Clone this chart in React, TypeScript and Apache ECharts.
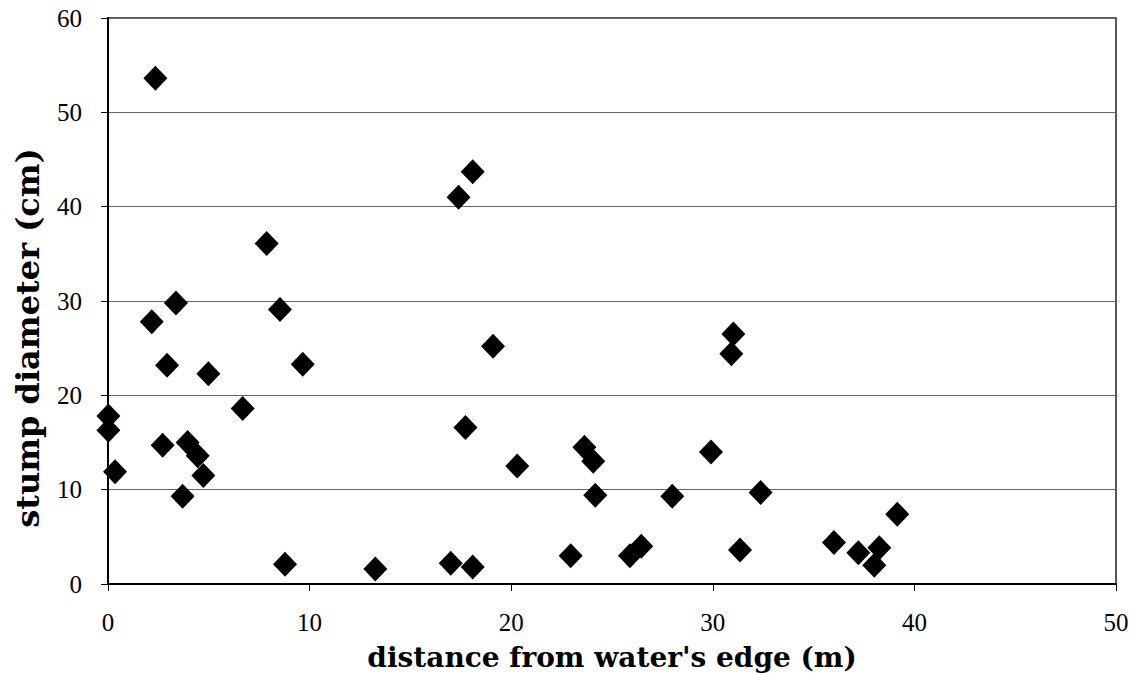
import React, { useEffect, useRef } from "react";
import * as echarts from "echarts";

const distance: number[] = [
  2.35, 0.02, 0.02, 0.35, 2.17, 3.37, 2.93, 2.71, 3.95, 4.45, 4.73, 3.7, 4.98,
  6.68, 7.87, 8.53, 9.66, 8.78, 13.26, 17.0, 18.09, 17.39, 18.09, 17.73, 19.1,
  20.3, 22.95, 23.63, 24.07, 24.17, 25.89, 26.45, 27.99, 29.91, 30.92, 31.02,
  31.35, 32.37, 36.01, 37.22, 38.01, 38.26, 39.15,
];
const diameter: number[] = [
  53.6, 17.8, 16.3, 11.9, 27.8, 29.8, 23.2, 14.7, 15.0, 13.6, 11.5, 9.3, 22.3,
  18.6, 36.1, 29.1, 23.3, 2.1, 1.6, 2.2, 1.8, 41.0, 43.7, 16.6, 25.2, 12.5, 3.0,
  14.5, 13.0, 9.4, 3.0, 4.0, 9.3, 14.0, 24.4, 26.5, 3.6, 9.7, 4.4, 3.3, 2.0,
  3.85, 7.4,
];
const xTitle = "distance from water's edge (m)";
const yTitle = "stump diameter (cm)";

const TICK_FONT = "Liberation Serif";

export default function App() {
  const ref = useRef<HTMLDivElement>(null);
  useEffect(() => {
    if (!ref.current) return;
    const chart = echarts.init(ref.current, null, { renderer: "svg" });
    const data = distance.map((d, i) => [d, diameter[i]]);
    const labelStyle = {
      color: "#000",
      fontFamily: TICK_FONT,
      fontSize: 25,
    };
    chart.setOption({
      animation: false,
      backgroundColor: "#ffffff",
      textStyle: { fontFamily: TICK_FONT, color: "#000" },
      grid: {
        left: 108,
        top: 18,
        right: 27,
        bottom: 89,
        show: true,
        borderColor: "#222",
        borderWidth: 1.5,
      },
      xAxis: {
        type: "value",
        min: 0,
        max: 50,
        interval: 10,
        axisLine: { show: true, lineStyle: { color: "#000", width: 2 } },
        axisTick: { show: true, inside: false, length: 7, lineStyle: { color: "#000" } },
        axisLabel: { margin: 26, ...labelStyle },
        splitLine: { show: false },
      },
      yAxis: {
        type: "value",
        min: 0,
        max: 60,
        interval: 10,
        axisLine: { show: true, lineStyle: { color: "#000", width: 2 } },
        axisTick: { show: true, inside: false, length: 7, lineStyle: { color: "#000" } },
        axisLabel: { margin: 26, ...labelStyle },
        splitLine: { show: true, lineStyle: { color: "#666", width: 1 } },
      },
      graphic: [
        {
          type: "text",
          x: 612,
          y: 657,
          style: {
            text: xTitle,
            fill: "#000",
            font: "bold 28px 'DejaVu Serif'",
            textAlign: "center",
            textVerticalAlign: "middle",
          },
        },
        {
          type: "text",
          x: 28,
          y: 338,
          rotation: Math.PI / 2,
          style: {
            text: yTitle,
            fill: "#000",
            font: "bold 32px 'DejaVu Serif'",
            textAlign: "center",
            textVerticalAlign: "middle",
          },
        },
      ],
      series: [
        {
          type: "scatter",
          data,
          symbol: "diamond",
          symbolSize: [24, 25],
          itemStyle: { color: "#000", opacity: 1 },
        },
      ],
    });
    return () => chart.dispose();
  }, []);
  return <div ref={ref} style={{ width: 1143, height: 673, position: "absolute", left: 0, top: 0 }} />;
}
